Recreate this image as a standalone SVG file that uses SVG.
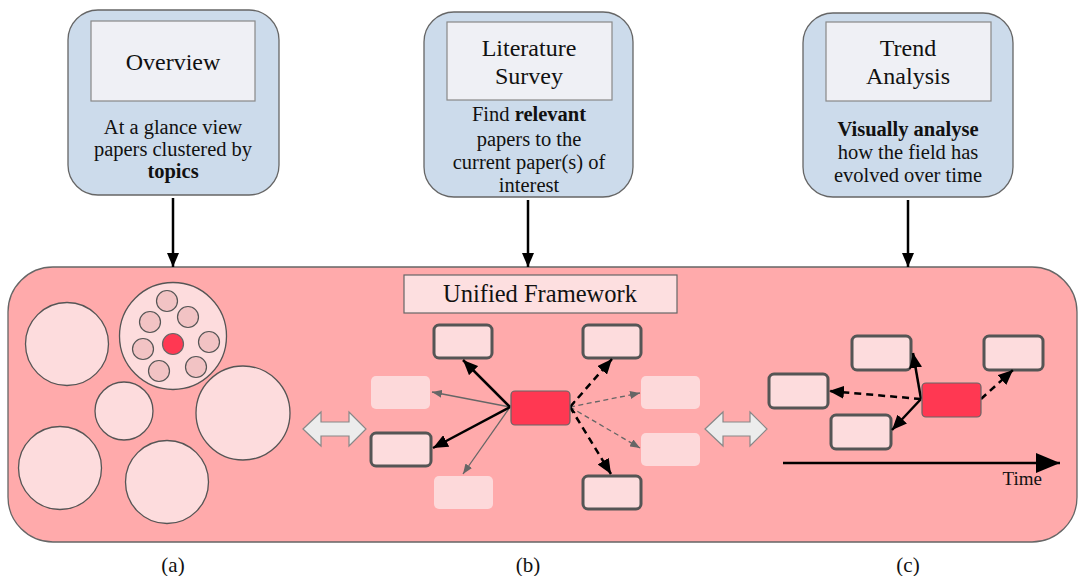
<svg xmlns="http://www.w3.org/2000/svg" width="1078" height="576" viewBox="0 0 1078 576">
  <style>
    text { font-family: "Liberation Serif", "Times New Roman", serif; fill: #111; }
    .task { fill: #ccdbeb; stroke: #666; stroke-width: 1.3; }
    .title { fill: #eff0f5; stroke: #888; stroke-width: 1.2; }
    .tt { font-size: 24px; text-anchor: middle; }
    .desc { font-size: 20.5px; text-anchor: middle; }
    .b { font-weight: bold; }
    .frame { fill: #ffaaab; stroke: #666; stroke-width: 1.3; }
    .bubble { fill: #fddcdd; stroke: #555; stroke-width: 1.3; }
    .dot { fill: #f2c3c4; stroke: #555; stroke-width: 1.2; }
    .focus { fill: #ff3852; stroke: #666; stroke-width: 1.2; }
    .paper { fill: #fddcdd; stroke: #555; stroke-width: 3; }
    .faded { fill: #fdd9da; }
    .swap { fill: #ececec; stroke: #888; stroke-width: 1.2; }
    .link { fill: none; stroke: #000; stroke-width: 2.5; }
    .weak { fill: none; stroke: #666; stroke-width: 1.3; }
    .dash { stroke-dasharray: 7 5; }
    .dash2 { stroke-dasharray: 5 3.5; }
    .lbl { font-size: 21px; text-anchor: middle; }
  </style>
  <defs>
    <marker id="headBold" markerUnits="userSpaceOnUse" markerWidth="15" markerHeight="13" refX="15" refY="6.5" orient="auto">
      <path d="M0,0 L15,6.5 L0,13 Z" fill="#000"/>
    </marker>
    <marker id="headThin" markerUnits="userSpaceOnUse" markerWidth="10" markerHeight="8" refX="10" refY="4" orient="auto">
      <path d="M0,0 L10,4 L0,8 Z" fill="#666"/>
    </marker>
    <marker id="headDown" markerUnits="userSpaceOnUse" markerWidth="14" markerHeight="12" refX="14" refY="6" orient="auto">
      <path d="M0,0 L14,6 L0,12 Z" fill="#000"/>
    </marker>
    <marker id="headTime" markerUnits="userSpaceOnUse" markerWidth="24" markerHeight="20" refX="24" refY="10" orient="auto">
      <path d="M0,0 L24,10 L0,20 Z" fill="#000"/>
    </marker>
  </defs>

  <!-- task cards -->
  <g id="overview">
    <rect class="task" x="68" y="10" width="211" height="185" rx="30"/>
    <rect class="title" x="91" y="21" width="164" height="80"/>
    <text class="tt" x="173" y="70">Overview</text>
    <text class="desc" x="173" y="134">At a glance view</text>
    <text class="desc" x="173" y="156">papers clustered by</text>
    <text class="desc b" x="173" y="178">topics</text>
  </g>
  <g id="literature-survey">
    <rect class="task" x="424" y="12" width="209" height="185" rx="30"/>
    <rect class="title" x="447" y="22" width="165" height="78"/>
    <text class="tt" x="529" y="56">Literature</text>
    <text class="tt" x="529" y="84">Survey</text>
    <text class="desc" x="529" y="121">Find <tspan class="b">relevant</tspan></text>
    <text class="desc" x="529" y="146">papers to the</text>
    <text class="desc" x="529" y="169">current paper(s) of</text>
    <text class="desc" x="529" y="192">interest</text>
  </g>
  <g id="trend-analysis">
    <rect class="task" x="803" y="13" width="210" height="184" rx="30"/>
    <rect class="title" x="826" y="22" width="165" height="79"/>
    <text class="tt" x="908" y="56">Trend</text>
    <text class="tt" x="908" y="84">Analysis</text>
    <text class="desc b" x="908" y="136">Visually analyse</text>
    <text class="desc" x="908" y="159">how the field has</text>
    <text class="desc" x="908" y="182">evolved over time</text>
  </g>

  <!-- shared framework panel -->
  <g id="framework">
    <rect class="frame" x="8" y="267" width="1069" height="275" rx="45"/>
    <rect x="404" y="275" width="273" height="38" fill="#fddfe0" stroke="#666" stroke-width="1.2"/>
    <text x="540" y="302" font-size="24.5" text-anchor="middle">Unified Framework</text>
  </g>

  <!-- (a) topic clusters -->
  <g id="clusters">
    <circle class="bubble" cx="67" cy="344" r="41.5"/>
    <circle class="bubble" cx="173" cy="336" r="53.5"/>
    <circle class="bubble" cx="124" cy="411" r="29"/>
    <circle class="bubble" cx="243" cy="413" r="47"/>
    <circle class="bubble" cx="60" cy="468" r="41.5"/>
    <circle class="bubble" cx="167" cy="482" r="41.5"/>
    <circle class="dot" cx="167" cy="301" r="10.5"/>
    <circle class="dot" cx="150" cy="322" r="10.5"/>
    <circle class="dot" cx="188" cy="317" r="10.5"/>
    <circle class="dot" cx="143" cy="349" r="10.5"/>
    <circle class="dot" cx="209" cy="342" r="10.5"/>
    <circle class="dot" cx="159" cy="371" r="10.5"/>
    <circle class="dot" cx="196" cy="367" r="10.5"/>
    <circle class="focus" cx="173" cy="344" r="10.5"/>
  </g>

  <!-- view switch arrows -->
  <g id="switch-ab">
    <path class="swap" d="M303,429 L321,412 L321,422 L349,422 L349,412 L366,429 L349,446 L349,436 L321,436 L321,446 Z"/>
  </g>
  <g id="switch-bc">
    <path class="swap" d="M705,429 L723,412 L723,422 L750,422 L750,412 L767,429 L750,446 L750,436 L723,436 L723,446 Z"/>
  </g>

  <!-- (b) related papers -->
  <g id="related-papers">
    <rect class="faded" x="371" y="376" width="59" height="33" rx="5"/>
    <rect class="faded" x="434" y="476" width="59" height="33" rx="5"/>
    <rect class="faded" x="641" y="376" width="59" height="33" rx="5"/>
    <rect class="faded" x="641" y="433" width="59" height="33" rx="5"/>
    <rect class="paper" x="434" y="325" width="58" height="33" rx="5"/>
    <rect class="paper" x="583" y="325" width="58" height="33" rx="5"/>
    <rect class="paper" x="371" y="433" width="60" height="33" rx="5"/>
    <rect class="paper" x="583" y="476" width="58" height="33" rx="5"/>
  </g>

  <!-- (c) papers over time -->
  <g id="timeline-papers">
    <rect class="paper" x="852" y="336" width="59" height="34" rx="5"/>
    <rect class="paper" x="984" y="336" width="59" height="34" rx="5"/>
    <rect class="paper" x="769" y="374" width="59" height="34" rx="5"/>
    <rect class="paper" x="831" y="415" width="60" height="34" rx="5"/>
  </g>

  <!-- connectors -->
  <g id="connectors">
    <line class="link" stroke-width="2" x1="173" y1="198" x2="173" y2="267" marker-end="url(#headDown)"/>
    <line class="link" stroke-width="2" x1="528" y1="200" x2="528" y2="267" marker-end="url(#headDown)"/>
    <line class="link" stroke-width="2" x1="908" y1="200" x2="908" y2="267" marker-end="url(#headDown)"/>

    <line class="weak" x1="510" y1="407" x2="432" y2="392" marker-end="url(#headThin)"/>
    <line class="weak" x1="510" y1="407" x2="463" y2="474" marker-end="url(#headThin)"/>
    <line class="link" x1="510" y1="407" x2="463" y2="360" marker-end="url(#headBold)"/>
    <line class="link" x1="510" y1="407" x2="433" y2="448" marker-end="url(#headBold)"/>
    <line class="weak dash2" x1="570" y1="407" x2="640" y2="393" marker-end="url(#headThin)"/>
    <line class="weak dash2" x1="570" y1="407" x2="640" y2="448" marker-end="url(#headThin)"/>
    <line class="link dash" x1="570" y1="407" x2="612" y2="359" marker-end="url(#headBold)"/>
    <line class="link dash" x1="570" y1="407" x2="611" y2="474" marker-end="url(#headBold)"/>
    <polyline points="575,401 570,407 575,413" fill="none" stroke="#000" stroke-width="1.5"/>

    <line class="link" x1="921" y1="399" x2="913" y2="353" marker-end="url(#headBold)"/>
    <line class="link" x1="921" y1="399" x2="892" y2="430" marker-end="url(#headBold)"/>
    <line class="link dash" x1="921" y1="399" x2="829" y2="391" marker-end="url(#headBold)"/>
    <line class="link dash" x1="981" y1="399" x2="1013" y2="370" marker-end="url(#headBold)"/>

    <line class="link" stroke-width="4" x1="783" y1="463" x2="1060" y2="463" marker-end="url(#headTime)"/>
  </g>

  <!-- focus papers drawn over the connector ends -->
  <g id="focus-b">
    <rect class="focus" x="511" y="391" width="59" height="34" rx="4"/>
  </g>
  <g id="focus-c">
    <rect class="focus" x="922" y="383" width="59" height="34" rx="4"/>
  </g>

  <text x="1042" y="485" font-size="19" text-anchor="end">Time</text>

  <text class="lbl" x="173" y="572">(a)</text>
  <text class="lbl" x="528" y="572">(b)</text>
  <text class="lbl" x="908" y="572">(c)</text>
</svg>
